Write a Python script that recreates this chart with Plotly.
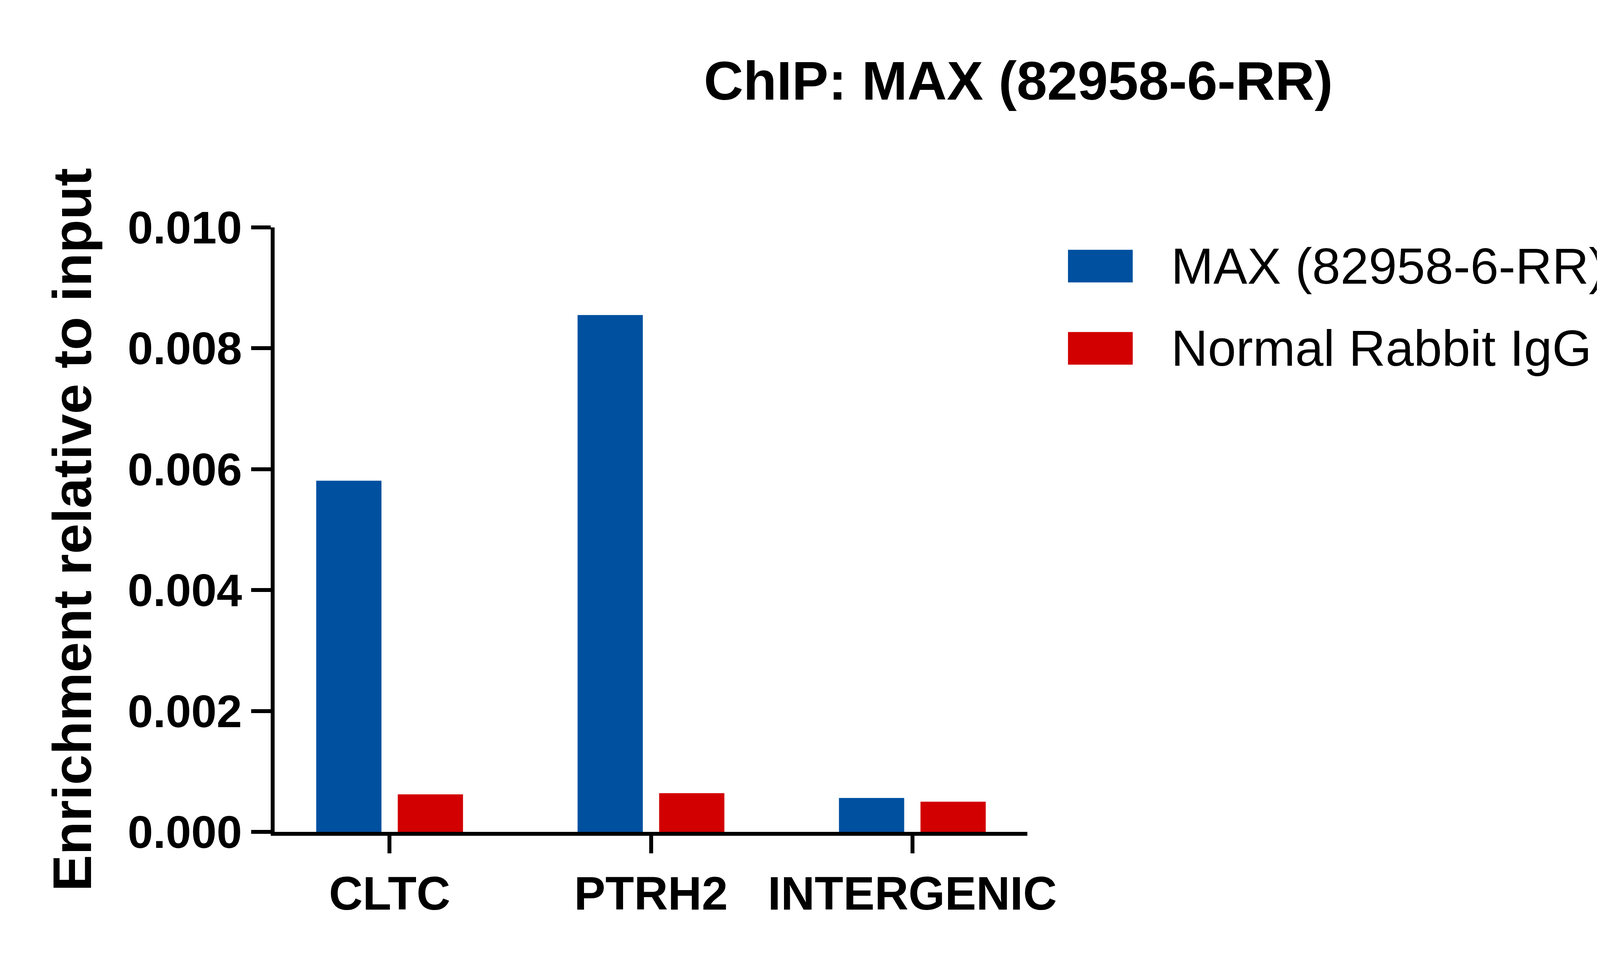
import plotly.graph_objects as go

categories = ["CLTC", "PTRH2", "INTERGENIC"]
max_vals = [0.00581, 0.00855, 0.00056]
igg_vals = [0.00062, 0.00064, 0.00050]
series_names = ["MAX (82958-6-RR)", "Normal Rabbit IgG (98136-1-RR)"]
colors = ["#0050a0", "#d20000"]
ytick_vals = [0, 0.002, 0.004, 0.006, 0.008, 0.010]
ytick_text = ["0.000", "0.002", "0.004", "0.006", "0.008", "0.010"]

fig = go.Figure()
for name, vals, c in zip(series_names, [max_vals, igg_vals], colors):
    fig.add_trace(go.Bar(x=categories, y=vals, name=name, marker_color=c,
                         marker_line_width=0, showlegend=False))

font = "Liberation Sans, Arial, sans-serif"
fig.update_layout(
    width=5000, height=2439, barmode="group", bargap=0.376, bargroupgap=0.2,
    plot_bgcolor="white", paper_bgcolor="white",
    margin=dict(l=695, r=2378, t=574, b=318),
    title=dict(text="<b>ChIP: MAX (82958-6-RR)</b>", x=0.988, xref="paper",
               xanchor="center", y=1 - 198 / 2439, yanchor="middle",
               font=dict(family=font, size=140, color="black")),
    xaxis=dict(range=[-0.44, 2.44], showline=True, linecolor="black", linewidth=10,
               ticks="outside", ticklen=45, tickwidth=10, tickcolor="black", showgrid=False,
               tickfont=dict(family=font, size=120, color="black", weight="bold")),
    yaxis=dict(range=[0, 0.010], showline=True, linecolor="black", linewidth=10,
               ticks="outside", ticklen=50, tickwidth=10, tickcolor="black",
               tickvals=ytick_vals, ticktext=ytick_text, showgrid=False, zeroline=False,
               tickfont=dict(family=font, size=117, color="black", weight="bold"),
               title=dict(text="<b>Enrichment relative to input</b>", standoff=50,
                          font=dict(family=font, size=140, color="black"))),
)

legend_rows = [(0.963, 0.909), (0.827, 0.773)]
for (y1, y0), name, c in zip(legend_rows, series_names, colors):
    fig.add_shape(type="rect", xref="paper", yref="paper", x0=1.054, x1=1.140,
                  y0=y0, y1=y1, fillcolor=c, line_width=0)
    fig.add_annotation(xref="paper", yref="paper", x=1.19, y=(y0 + y1) / 2,
                       text=name, showarrow=False, xanchor="left", yanchor="middle",
                       font=dict(family=font, size=130, color="black"))

fig.write_html("out.html")
